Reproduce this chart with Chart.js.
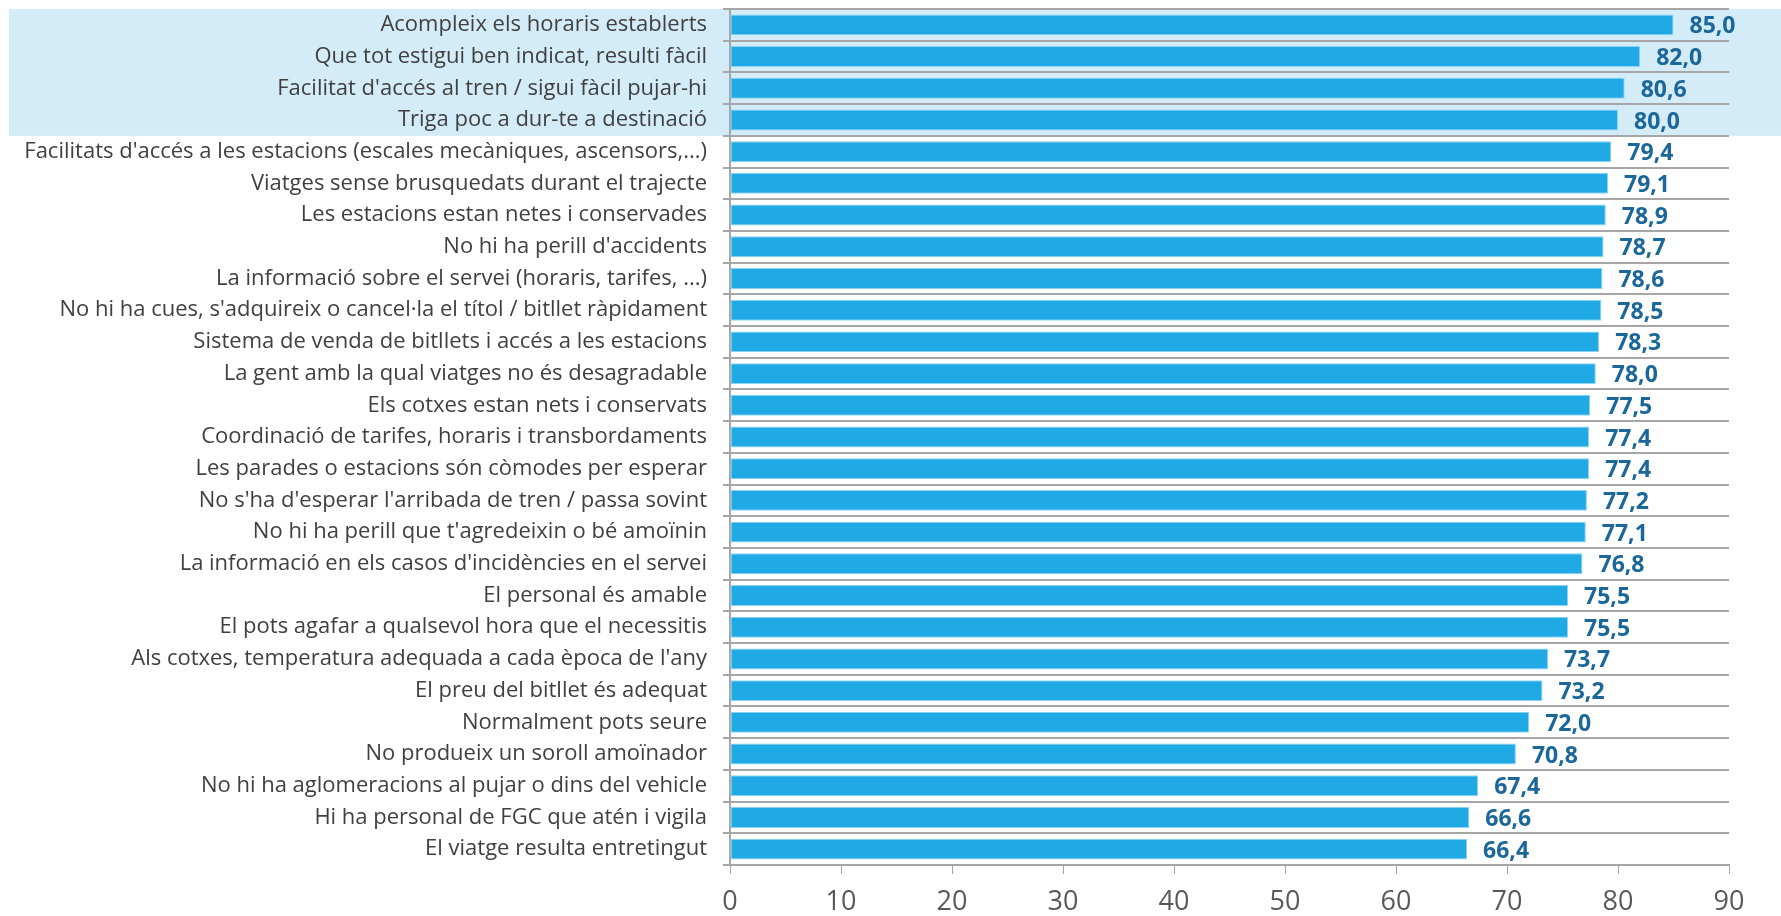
<!DOCTYPE html>
<html>
<head>
<meta charset="utf-8">
<script src="https://cdn.jsdelivr.net/npm/chart.js@4.4.1/dist/chart.umd.min.js"></script>
<style>
    html, body { margin: 0; padding: 0; background: #ffffff; }
    #wrap { width: 1781px; height: 916px; position: relative; }
</style>
</head>
<body>
<div id="wrap"><canvas id="satisfaction"></canvas></div>
<script>
const categories = [
    'Acompleix els horaris establerts',
    'Que tot estigui ben indicat, resulti fàcil',
    "Facilitat d'accés al tren / sigui fàcil pujar-hi",
    'Triga poc a dur-te a destinació',
    "Facilitats d'accés a les estacions (escales mecàniques, ascensors,...)",
    'Viatges sense brusquedats durant el trajecte',
    'Les estacions estan netes i conservades',
    "No hi ha perill d'accidents",
    'La informació sobre el servei (horaris, tarifes, ...)',
    "No hi ha cues, s'adquireix o cancel·la el títol / bitllet ràpidament",
    'Sistema de venda de bitllets i accés a les estacions',
    'La gent amb la qual viatges no és desagradable',
    'Els cotxes estan nets i conservats',
    'Coordinació de tarifes, horaris i transbordaments',
    'Les parades o estacions són còmodes per esperar',
    "No s'ha d'esperar l'arribada de tren / passa sovint",
    "No hi ha perill que t'agredeixin o bé amoïnin",
    "La informació en els casos d'incidències en el servei",
    'El personal és amable',
    'El pots agafar a qualsevol hora que el necessitis',
    "Als cotxes, temperatura adequada a cada època de l'any",
    'El preu del bitllet és adequat',
    'Normalment pots seure',
    'No produeix un soroll amoïnador',
    'No hi ha aglomeracions al pujar o dins del vehicle',
    'Hi ha personal de FGC que atén i vigila',
    'El viatge resulta entretingut'
];

const scores = [
    85.0, 82.0, 80.6, 80.0, 79.4, 79.1, 78.9, 78.7, 78.6, 78.5,
    78.3, 78.0, 77.5, 77.4, 77.4, 77.2, 77.1, 76.8, 75.5, 75.5,
    73.7, 73.2, 72.0, 70.8, 67.4, 66.6, 66.4
];

// the first few items are shaded as a group
const highlightCount = 4;

const xTicks = [0, 10, 20, 30, 40, 50, 60, 70, 80, 90];

const fmt = v => v.toFixed(1).replace('.', ',');

// light blue band behind the top rows
const highlightBand = {
    id: 'highlightBand',
    beforeDraw(chart) {
        const ctx = chart.ctx;
        const y = chart.scales.y;
        const half = (y.getPixelForValue(1) - y.getPixelForValue(0)) / 2;
        const top = y.getPixelForValue(0) - half;
        const bottom = y.getPixelForValue(highlightCount - 1) + half;
        ctx.save();
        ctx.fillStyle = '#D3ECF8';
        ctx.fillRect(9, top, chart.width - 9, bottom - top);
        ctx.restore();
    }
};

// value printed after the end of each bar
const valueLabels = {
    id: 'valueLabels',
    afterDatasetsDraw(chart) {
        const ctx = chart.ctx;
        const meta = chart.getDatasetMeta(0);
        ctx.save();
        ctx.font = 'bold 23px "Open Sans"';
        ctx.fillStyle = '#1B6799';
        ctx.textAlign = 'left';
        ctx.textBaseline = 'middle';
        meta.data.forEach((bar, i) => {
            ctx.fillText(fmt(scores[i]), bar.x + 16, bar.y + 2);
        });
        ctx.restore();
    }
};

new Chart(document.getElementById('satisfaction'), {
    type: 'bar',
    data: {
        labels: categories,
        datasets: [{
            data: scores,
            backgroundColor: '#1FAAE6',
            borderColor: '#8ED4F4',
            borderWidth: 1,
            borderSkipped: false,
            barPercentage: 0.66,
            categoryPercentage: 1
        }]
    },
    options: {
        indexAxis: 'y',
        responsive: true,
        maintainAspectRatio: false,
        animation: false,
        layout: { padding: { top: 9, right: 52, left: 0, bottom: 0 } },
        plugins: {
            legend: { display: false },
            tooltip: { enabled: false }
        },
        scales: {
            x: {
                min: 0,
                max: 90,
                afterBuildTicks(scale) {
                    scale.ticks = xTicks.map(v => ({ value: v }));
                },
                afterFit(scale) {
                    scale.height = 51;
                    scale.paddingLeft = 0;
                    scale.paddingRight = 0;
                },
                border: { display: true, color: '#A6A6A6', width: 2 },
                grid: {
                    drawOnChartArea: false,
                    drawTicks: true,
                    tickLength: 9,
                    color: '#A6A6A6',
                    lineWidth: 1
                },
                ticks: {
                    padding: 12,
                    color: '#595959',
                    font: { family: '"Open Sans"', size: 27 }
                }
            },
            y: {
                afterFit(scale) {
                    scale.width = 730;
                    scale.paddingTop = 0;
                    scale.paddingBottom = 0;
                },
                border: { display: true, color: '#A6A6A6', width: 2 },
                grid: {
                    offset: true,
                    color: '#A6A6A6',
                    lineWidth: 2,
                    tickLength: 7
                },
                ticks: {
                    padding: 16,
                    autoSkip: false,
                    color: '#404040',
                    font: { family: '"Open Sans"', size: 22 }
                }
            }
        }
    },
    plugins: [highlightBand, valueLabels]
});
</script>
</body>
</html>
